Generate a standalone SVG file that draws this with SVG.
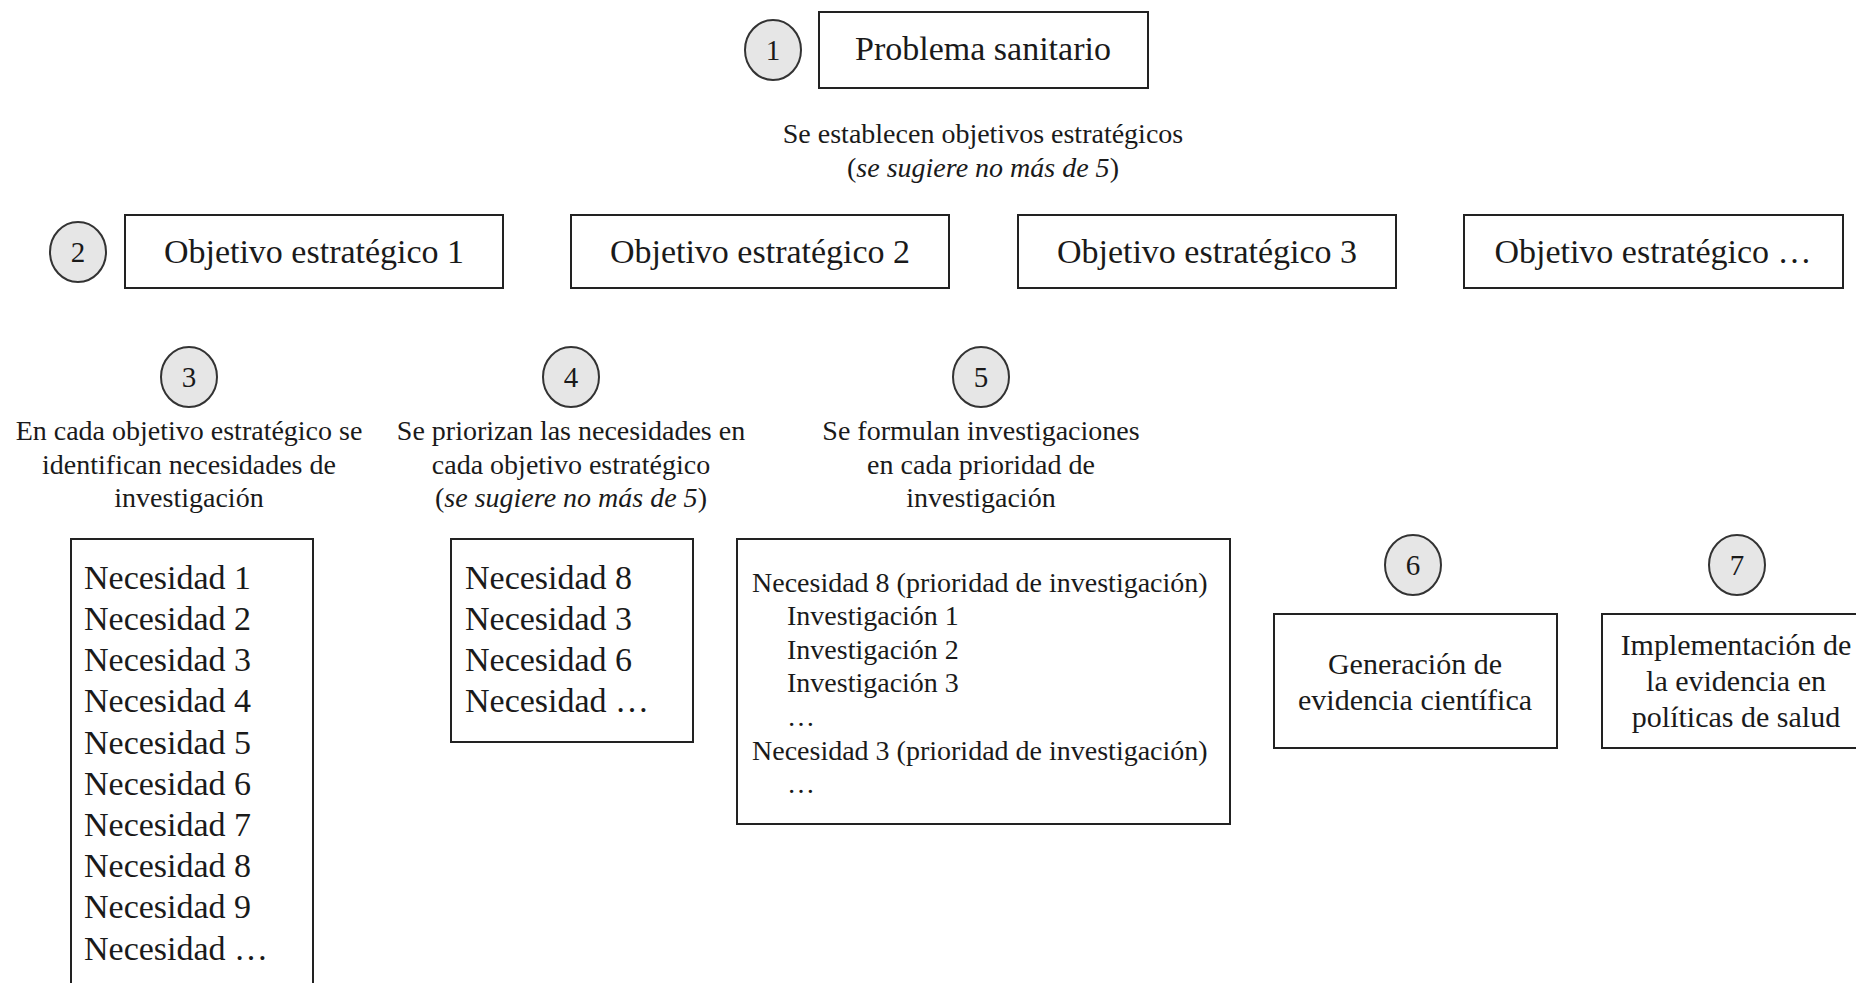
<svg xmlns="http://www.w3.org/2000/svg" width="1856" height="983" viewBox="0 0 1856 983">
<style>
text{font-family:"Liberation Serif","Times New Roman",serif;fill:#1a1a1a}
.box{fill:#fff;stroke:#222;stroke-width:2}
.num{fill:#e6e6e6;stroke:#333;stroke-width:2}
.n{font-size:29px;text-anchor:middle}
.big{font-size:34px}
.mid{font-size:28px}
.lab{font-size:30px}
.c{text-anchor:middle}
.i{font-style:italic}
</style>
<rect width="1856" height="983" fill="#fff"/>
<g id="connectors"></g>
<g id="step1">
<ellipse class="num" cx="773" cy="50" rx="28" ry="30"/>
<text class="n" x="773" y="60">1</text>
<rect class="box" x="819" y="12" width="329" height="76"/>
<text class="big c" x="983" y="60">Problema sanitario</text>
</g>
<g id="label-objetivos">
<text class="mid c" x="983" y="143">Se establecen objetivos estratégicos</text>
<text class="mid c" x="983" y="177">(<tspan class="i">se sugiere no más de 5</tspan>)</text>
</g>
<g id="step2">
<ellipse class="num" cx="78" cy="252" rx="28" ry="30"/>
<text class="n" x="78" y="262">2</text>
</g>
<g id="obj1">
<rect class="box" x="125" y="215" width="378" height="73"/>
<text class="big c" x="314" y="263">Objetivo estratégico 1</text>
</g>
<g id="obj2">
<rect class="box" x="571" y="215" width="378" height="73"/>
<text class="big c" x="760" y="263">Objetivo estratégico 2</text>
</g>
<g id="obj3">
<rect class="box" x="1018" y="215" width="378" height="73"/>
<text class="big c" x="1207" y="263">Objetivo estratégico 3</text>
</g>
<g id="obj4">
<rect class="box" x="1464" y="215" width="379" height="73"/>
<text class="big c" x="1653" y="263">Objetivo estratégico …</text>
</g>
<g id="step3">
<ellipse class="num" cx="189" cy="377" rx="28" ry="30"/>
<text class="n" x="189" y="387">3</text>
<text class="mid c" x="189" y="440">En cada objetivo estratégico se</text>
<text class="mid c" x="189" y="474">identifican necesidades de</text>
<text class="mid c" x="189" y="507">investigación</text>
<rect class="box" x="71" y="539" width="242" height="460"/>
<text class="big" x="84" y="589">Necesidad 1</text>
<text class="big" x="84" y="630">Necesidad 2</text>
<text class="big" x="84" y="671">Necesidad 3</text>
<text class="big" x="84" y="712">Necesidad 4</text>
<text class="big" x="84" y="754">Necesidad 5</text>
<text class="big" x="84" y="795">Necesidad 6</text>
<text class="big" x="84" y="836">Necesidad 7</text>
<text class="big" x="84" y="877">Necesidad 8</text>
<text class="big" x="84" y="918">Necesidad 9</text>
<text class="big" x="84" y="960">Necesidad …</text>
</g>
<g id="step4">
<ellipse class="num" cx="571" cy="377" rx="28" ry="30"/>
<text class="n" x="571" y="387">4</text>
<text class="mid c" x="571" y="440">Se priorizan las necesidades en</text>
<text class="mid c" x="571" y="474">cada objetivo estratégico</text>
<text class="mid c" x="571" y="507">(<tspan class="i">se sugiere no más de 5</tspan>)</text>
<rect class="box" x="451" y="539" width="242" height="203"/>
<text class="big" x="465" y="589">Necesidad 8</text>
<text class="big" x="465" y="630">Necesidad 3</text>
<text class="big" x="465" y="671">Necesidad 6</text>
<text class="big" x="465" y="712">Necesidad …</text>
</g>
<g id="step5">
<ellipse class="num" cx="981" cy="377" rx="28" ry="30"/>
<text class="n" x="981" y="387">5</text>
<text class="mid c" x="981" y="440">Se formulan investigaciones</text>
<text class="mid c" x="981" y="474">en cada prioridad de</text>
<text class="mid c" x="981" y="507">investigación</text>
<rect class="box" x="737" y="539" width="493" height="285"/>
<text class="mid" x="752" y="592">Necesidad 8 (prioridad de investigación)</text>
<text class="mid" x="787" y="625">Investigación 1</text>
<text class="mid" x="787" y="659">Investigación 2</text>
<text class="mid" x="787" y="692">Investigación 3</text>
<text class="mid" x="787" y="726">…</text>
<text class="mid" x="752" y="760">Necesidad 3 (prioridad de investigación)</text>
<text class="mid" x="787" y="793">…</text>
</g>
<g id="step6">
<ellipse class="num" cx="1413" cy="565" rx="28" ry="30"/>
<text class="n" x="1413" y="575">6</text>
<rect class="box" x="1274" y="614" width="283" height="134"/>
<text class="lab c" x="1415" y="674">Generación de</text>
<text class="lab c" x="1415" y="710">evidencia científica</text>
</g>
<g id="step7">
<ellipse class="num" cx="1737" cy="565" rx="28" ry="30"/>
<text class="n" x="1737" y="575">7</text>
<rect class="box" x="1602" y="614" width="270" height="134"/>
<text class="lab c" x="1736" y="655">Implementación de</text>
<text class="lab c" x="1736" y="691">la evidencia en</text>
<text class="lab c" x="1736" y="727">políticas de salud</text>
</g>
</svg>
